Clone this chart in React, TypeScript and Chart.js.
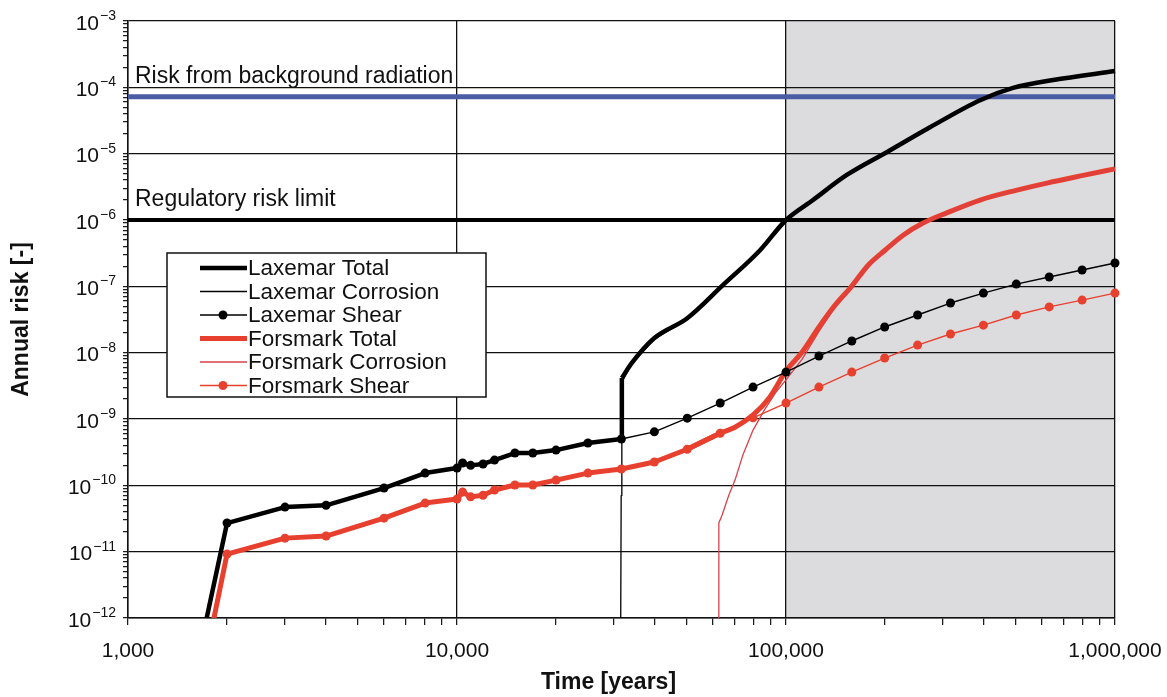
import React, { useEffect, useRef } from 'react';
import { Chart, registerables } from 'chart.js';

Chart.register(...registerables);

const FONT = "'Liberation Sans', Arial, Helvetica, sans-serif";

// ---- axes ----
const X_MIN = 1000;
const X_MAX = 1000000;
const Y_MIN = 1e-12;
const Y_MAX = 1e-3;
const X_MAJOR = [1000, 10000, 100000, 1000000];
const X_TICK_LABELS = ['1,000', '10,000', '100,000', '1,000,000'];
const Y_MAJOR = [1e-12, 1e-11, 1e-10, 1e-9, 1e-8, 1e-7, 1e-6, 1e-5, 1e-4, 1e-3];
const Y_TICK_BASE = '10';
const Y_TICK_EXPONENTS = ['−12', '−11', '−10', '−9', '−8', '−7', '−6', '−5', '−4', '−3'];
const MINOR_STEPS = [1, 2, 3, 4, 5, 6, 7, 8, 9];
const X_TITLE = 'Time [years]';
const Y_TITLE = 'Annual risk [-]';

// ---- shaded region & reference levels ----
const SHADE_FROM = 100000;
const SHADE_TO = 1000000;
const BG_RISK = 7.2e-5;
const REG_LIMIT = 1e-6;

// ---- series ----
// Laxemar Total: straight early part (coincides with shear), smooth part after the corrosion jump
const LAX_TOTAL_EARLY_T = [1570, 2000, 3000, 4000, 6000, 8000, 10000, 10400, 11000, 12000, 13000, 15000, 17000, 20000, 25000, 31600, 31700];
const LAX_TOTAL_EARLY_R = [1e-13, 2.7e-11, 4.7e-11, 5.0e-11, 9.1e-11, 1.53e-10, 1.82e-10, 2.17e-10, 2.0e-10, 2.1e-10, 2.4e-10, 3.07e-10, 3.07e-10, 3.4e-10, 4.35e-10, 5.0e-10, 4.15e-9];
const LAX_TOTAL_LATE_T = [31700, 34000, 39800, 50100, 64400, 83400, 100000, 120800, 153000, 203000, 274000, 389000, 490000, 649000, 1000000];
const LAX_TOTAL_LATE_R = [4.15e-9, 7.0e-9, 1.66e-8, 3.3e-8, 1.05e-7, 3.5e-7, 1.0e-6, 2.0e-6, 4.77e-6, 1.06e-5, 2.5e-5, 6.4e-5, 9.8e-5, 1.29e-4, 1.76e-4];

const LAX_CORR_T = [31400, 31550, 31700, 34000, 39800, 50100, 64400, 83400, 100000, 120800, 153000, 203000, 274000, 389000, 490000, 649000, 1000000];
const LAX_CORR_R = [1e-13, 7e-11, 3.6e-9, 6.8e-9, 1.6e-8, 3.2e-8, 1.03e-7, 3.45e-7, 0.99e-6, 2.0e-6, 4.75e-6, 1.06e-5, 2.5e-5, 6.4e-5, 9.8e-5, 1.29e-4, 1.76e-4];

const LAX_SHEAR_T = [1570, 2000, 3000, 4000, 6000, 8000, 10000, 10400, 11000, 12000, 13000, 15000, 17000, 20000, 25000, 31600, 39800, 50100, 63100, 79400, 100000, 125900, 158500, 199500, 251200, 316200, 398100, 501200, 631000, 794300, 1000000];
const LAX_SHEAR_R = [1e-13, 2.7e-11, 4.7e-11, 5.0e-11, 9.1e-11, 1.53e-10, 1.82e-10, 2.17e-10, 2.0e-10, 2.1e-10, 2.4e-10, 3.07e-10, 3.07e-10, 3.4e-10, 4.35e-10, 5.0e-10, 6.4e-10, 1.03e-9, 1.74e-9, 3.03e-9, 5.1e-9, 8.9e-9, 1.5e-8, 2.44e-8, 3.7e-8, 5.6e-8, 7.9e-8, 1.08e-7, 1.38e-7, 1.76e-7, 2.25e-7];

// Forsmark Total: straight early part (coincides with shear), smooth part after corrosion starts
const FOR_TOTAL_EARLY_T = [1660, 2000, 3000, 4000, 6000, 8000, 10000, 10400, 11000, 12000, 13000, 15000, 17000, 20000, 25000, 31600, 39800, 50100, 63100];
const FOR_TOTAL_EARLY_R = [1e-13, 9.2e-12, 1.6e-11, 1.72e-11, 3.2e-11, 5.4e-11, 6.2e-11, 7.9e-11, 6.7e-11, 7.1e-11, 8.5e-11, 1.01e-10, 1.01e-10, 1.2e-10, 1.53e-10, 1.76e-10, 2.25e-10, 3.5e-10, 6.1e-10];
const FOR_TOTAL_LATE_T = [50100, 63100, 70000, 79400, 89000, 100000, 112000, 126000, 141000, 158500, 178000, 200000, 227000, 261000, 308000, 389000, 500000, 621000, 800000, 1000000];
const FOR_TOTAL_LATE_R = [3.5e-10, 6.1e-10, 7.5e-10, 1.15e-9, 2.1e-9, 5.3e-9, 1.02e-8, 2.44e-8, 5.2e-8, 1.01e-7, 2.1e-7, 3.5e-7, 5.9e-7, 9.0e-7, 1.28e-6, 2.0e-6, 2.8e-6, 3.6e-6, 4.7e-6, 5.9e-6];

const FOR_CORR_T = [62300, 62500, 64000, 67000, 70000, 74000, 79400, 86000, 93000, 100000, 112000, 126000, 141000, 158500, 178000, 200000, 227000, 261000, 308000, 389000, 500000, 621000, 800000, 1000000];
const FOR_CORR_R = [1e-13, 2.7e-11, 3.6e-11, 7.1e-11, 1.2e-10, 2.9e-10, 6.8e-10, 1.37e-9, 2.5e-9, 3.9e-9, 8.0e-9, 2.1e-8, 4.9e-8, 9.6e-8, 2.05e-7, 3.45e-7, 5.8e-7, 8.9e-7, 1.26e-6, 2.0e-6, 2.78e-6, 3.55e-6, 4.65e-6, 5.8e-6];

const FOR_SHEAR_T = [1660, 2000, 3000, 4000, 6000, 8000, 10000, 10400, 11000, 12000, 13000, 15000, 17000, 20000, 25000, 31600, 39800, 50100, 63100, 79400, 100000, 125900, 158500, 199500, 251200, 316200, 398100, 501200, 631000, 794300, 1000000];
const FOR_SHEAR_R = [1e-13, 9.2e-12, 1.6e-11, 1.72e-11, 3.2e-11, 5.4e-11, 6.2e-11, 7.9e-11, 6.7e-11, 7.1e-11, 8.5e-11, 1.01e-10, 1.01e-10, 1.2e-10, 1.53e-10, 1.76e-10, 2.25e-10, 3.5e-10, 6.1e-10, 1.04e-9, 1.74e-9, 3.03e-9, 5.1e-9, 8.3e-9, 1.3e-8, 1.91e-8, 2.6e-8, 3.7e-8, 4.9e-8, 6.2e-8, 7.9e-8];

const LEGEND_ORDER = ['Laxemar Total', 'Laxemar Corrosion', 'Laxemar Shear', 'Forsmark Total', 'Forsmark Corrosion', 'Forsmark Shear'];
const ANNOTATIONS = [
  { text: 'Risk from background radiation', value: BG_RISK },
  { text: 'Regulatory risk limit', value: REG_LIMIT },
];

const BLACK = '#000000';
const RED = '#e8402f';
const RED_THIN = '#d8414a';
const BLUE = '#4a5ca3';

function pts(t: number[], r: number[]) {
  return t.map((x, i) => ({ x, y: r[i] }));
}

function buildTicks(majors: number[]) {
  const out: { value: number }[] = [];
  majors.forEach((m, i) => {
    if (i === majors.length - 1) out.push({ value: m });
    else MINOR_STEPS.forEach((k) => out.push({ value: m * k }));
  });
  return out;
}

function majorIndex(majors: number[], v: number) {
  return majors.findIndex((m) => Math.abs(m - v) / m < 1e-6);
}

const CLIP = { left: 0, top: 0, right: 8, bottom: 0 };

export default function App() {
  const ref = useRef<HTMLCanvasElement | null>(null);

  useEffect(() => {
    document.body.style.margin = '0';
    const canvas = ref.current;
    if (!canvas) return;

    const shadePlugin = {
      id: 'shade',
      beforeDraw(chart: any) {
        const { ctx, chartArea, scales } = chart;
        ctx.save();
        ctx.fillStyle = '#ffffff';
        ctx.fillRect(0, 0, chart.width, chart.height);
        const x0 = scales.x.getPixelForValue(SHADE_FROM);
        const x1 = scales.x.getPixelForValue(SHADE_TO);
        ctx.fillStyle = '#dcdcdf';
        ctx.fillRect(x0, chartArea.top, x1 - x0, chartArea.bottom - chartArea.top);
        ctx.restore();
      },
    };

    const overlayPlugin = {
      id: 'overlay',
      afterDraw(chart: any) {
        const { ctx, scales, chartArea } = chart;
        ctx.save();
        ctx.fillStyle = '#111';

        // y tick labels: 10 with superscript exponent, at the y scale's major ticks
        const rightEdge = chartArea.left - 12;
        Y_MAJOR.forEach((v, i) => {
          const py = scales.y.getPixelForValue(v);
          ctx.textAlign = 'right';
          ctx.textBaseline = 'alphabetic';
          ctx.font = `14px ${FONT}`;
          const exp = Y_TICK_EXPONENTS[i];
          const ew = ctx.measureText(exp).width;
          ctx.fillText(exp, rightEdge, py - 1);
          ctx.font = `21px ${FONT}`;
          ctx.fillText(Y_TICK_BASE, rightEdge - ew - 1, py + 8.5);
        });

        // annotation texts
        ctx.font = `23px ${FONT}`;
        ctx.textAlign = 'left';
        ctx.textBaseline = 'alphabetic';
        const xl = scales.x.getPixelForValue(X_MIN) + 7;
        ANNOTATIONS.forEach((a) => {
          const y = scales.y.getPixelForValue(a.value);
          ctx.fillText(a.text, xl, y - 14);
        });

        // x-axis title
        ctx.font = `bold 23px ${FONT}`;
        ctx.textAlign = 'center';
        ctx.textBaseline = 'middle';
        ctx.fillText(X_TITLE, (chartArea.left + chartArea.right) / 2 - 13, 683);

        // legend box
        const bx = 167, by = 253, bw = 319, bh = 144;
        ctx.fillStyle = '#ffffff';
        ctx.fillRect(bx, by, bw, bh);
        ctx.strokeStyle = '#111';
        ctx.lineWidth = 1.5;
        ctx.strokeRect(bx, by, bw, bh);
        ctx.font = `22.5px ${FONT}`;
        ctx.textAlign = 'left';
        ctx.textBaseline = 'middle';
        LEGEND_ORDER.forEach((name, i) => {
          const ds: any = chart.data.datasets.find((d: any) => d.label === name);
          if (!ds) return;
          const cy = 268 + i * 23.5;
          ctx.strokeStyle = ds.borderColor;
          ctx.lineWidth = ds.borderWidth;
          ctx.beginPath();
          ctx.moveTo(200, cy);
          ctx.lineTo(247, cy);
          ctx.stroke();
          if (ds.pointRadius > 0) {
            ctx.fillStyle = ds.pointBackgroundColor;
            ctx.beginPath();
            ctx.arc(223, cy, ds.pointRadius, 0, Math.PI * 2);
            ctx.fill();
          }
          ctx.fillStyle = '#111';
          ctx.fillText(name, 248, cy + 1);
        });
        ctx.restore();
      },
    };

    const lineDs = (label: string, data: any[], color: string, width: number, order: number, extra: any = {}) => ({
      label,
      data,
      borderColor: color,
      backgroundColor: color,
      borderWidth: width,
      pointRadius: 0,
      pointHoverRadius: 0,
      tension: 0,
      fill: false,
      order,
      clip: CLIP,
      borderJoinStyle: 'round',
      ...extra,
    });

    const chart = new Chart(canvas, {
      type: 'line',
      data: {
        datasets: [
          lineDs('Background radiation', [{ x: X_MIN, y: BG_RISK }, { x: X_MAX, y: BG_RISK }], BLUE, 5, 20, { clip: 0 }),
          lineDs('Regulatory limit', [{ x: X_MIN, y: REG_LIMIT }, { x: X_MAX, y: REG_LIMIT }], BLACK, 4, 19, { clip: 0 }),
          lineDs('Forsmark Total', pts(FOR_TOTAL_LATE_T, FOR_TOTAL_LATE_R), RED, 5, 11, { cubicInterpolationMode: 'monotone' }),
          lineDs('Forsmark Total (early)', pts(FOR_TOTAL_EARLY_T, FOR_TOTAL_EARLY_R), RED, 5, 10),
          lineDs('Forsmark Corrosion', pts(FOR_CORR_T, FOR_CORR_R), RED_THIN, 1.3, 9),
          lineDs('Laxemar Total', pts(LAX_TOTAL_LATE_T, LAX_TOTAL_LATE_R), BLACK, 4.5, 8, { cubicInterpolationMode: 'monotone' }),
          lineDs('Laxemar Total (early)', pts(LAX_TOTAL_EARLY_T, LAX_TOTAL_EARLY_R), BLACK, 4.5, 8),
          lineDs('Laxemar Corrosion', pts(LAX_CORR_T, LAX_CORR_R), BLACK, 1.3, 7),
          lineDs('Forsmark Shear', pts(FOR_SHEAR_T, FOR_SHEAR_R), RED, 1.4, 6, { pointRadius: 4.5, pointBackgroundColor: RED, pointBorderWidth: 0 }),
          lineDs('Laxemar Shear', pts(LAX_SHEAR_T, LAX_SHEAR_R), BLACK, 1.4, 5, { pointRadius: 4.5, pointBackgroundColor: BLACK, pointBorderWidth: 0 }),
        ],
      },
      options: {
        responsive: false,
        animation: false,
        devicePixelRatio: 1,
        events: [],
        layout: { padding: { top: 21, right: 52, left: 0, bottom: 0 } },
        plugins: {
          legend: { display: false },
          tooltip: { enabled: false },
          title: { display: false },
        },
        scales: {
          x: {
            type: 'logarithmic',
            min: X_MIN,
            max: X_MAX,
            afterBuildTicks: (scale: any) => {
              scale.ticks = buildTicks(X_MAJOR);
            },
            afterFit: (scale: any) => {
              scale.height = 79;
              scale.paddingLeft = 0;
              scale.paddingRight = 0;
            },
            ticks: {
              autoSkip: false,
              maxRotation: 0,
              minRotation: 0,
              padding: 14,
              color: '#111',
              font: { family: FONT, size: 21 },
              callback: (v: any) => {
                const i = majorIndex(X_MAJOR, Number(v));
                return i >= 0 ? X_TICK_LABELS[i] : '';
              },
            },
            grid: {
              color: (c: any) => (c.tick && majorIndex(X_MAJOR, c.tick.value) >= 0 ? '#111' : 'rgba(0,0,0,0)'),
              lineWidth: 1.3,
              tickColor: '#111',
              tickLength: 7,
              tickWidth: 1.2,
            },
            border: { display: true, color: '#111', width: 1.5 },
            title: { display: false },
          },
          y: {
            type: 'logarithmic',
            min: Y_MIN,
            max: Y_MAX,
            afterBuildTicks: (scale: any) => {
              scale.ticks = buildTicks(Y_MAJOR);
            },
            afterFit: (scale: any) => {
              scale.width = 128;
              scale.paddingTop = 0;
              scale.paddingBottom = 0;
            },
            ticks: {
              autoSkip: false,
              padding: 5,
              color: '#111',
              font: { family: FONT, size: 21 },
              callback: () => '',
            },
            grid: {
              color: (c: any) => (c.tick && majorIndex(Y_MAJOR, c.tick.value) >= 0 ? '#111' : 'rgba(0,0,0,0)'),
              lineWidth: 1.3,
              tickColor: '#111',
              tickLength: 5,
              tickWidth: 1.2,
            },
            border: { display: true, color: '#111', width: 1.5 },
            title: {
              display: true,
              text: Y_TITLE,
              color: '#111',
              font: { family: FONT, size: 23, weight: 'bold' },
              padding: { top: 8, bottom: 0 },
            },
          },
        },
      },
      plugins: [shadePlugin, overlayPlugin],
    } as any);

    return () => {
      chart.destroy();
    };
  }, []);

  return (
    <div style={{ width: 1167, height: 697 }}>
      <canvas ref={ref} width={1167} height={697} style={{ display: 'block' }} />
    </div>
  );
}
